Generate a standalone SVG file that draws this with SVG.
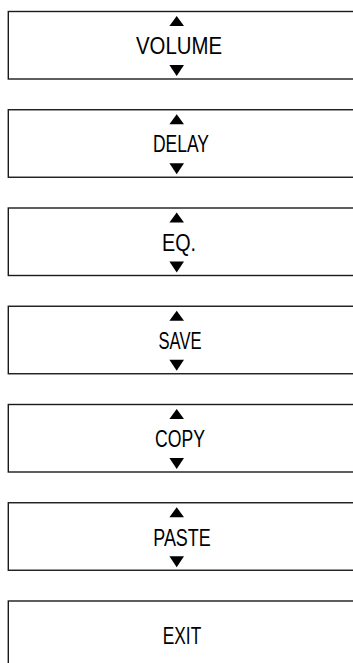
<svg xmlns="http://www.w3.org/2000/svg" xmlns:xlink="http://www.w3.org/1999/xlink" width="353" height="663" viewBox="0 0 353 663">
<style>
.box{fill:#fff;stroke:#1a1a1a;stroke-width:1.4}
.lbl{font-family:"Liberation Sans",Arial,sans-serif;font-size:23px;fill:#000;text-anchor:middle}
.tri{fill:#000}
</style>
<defs>
<path id="up" class="tri" d="M176.7,4.5 L184,14.5 L169.4,14.5 Z"/>
<path id="dn" class="tri" d="M169.4,53.5 L184,53.5 L176.7,64.5 Z"/>
</defs>
<rect width="353" height="663" fill="#fff"/>
<g id="connectors"/>
<g id="volume" transform="translate(0,11.5)">
<rect class="box" x="8.3" y="0" width="360" height="67.5"/>
<use xlink:href="#up"/><use xlink:href="#dn"/>
<text class="lbl" x="179" y="42.5" textLength="86" lengthAdjust="spacingAndGlyphs">VOLUME</text>
</g>
<g id="delay" transform="translate(0,109.75)">
<rect class="box" x="8.3" y="0" width="360" height="67.5"/>
<use xlink:href="#up"/><use xlink:href="#dn"/>
<text class="lbl" x="181" y="42.5" textLength="56" lengthAdjust="spacingAndGlyphs">DELAY</text>
</g>
<g id="eq" transform="translate(0,208)">
<rect class="box" x="8.3" y="0" width="360" height="67.5"/>
<use xlink:href="#up"/><use xlink:href="#dn"/>
<text class="lbl" x="179" y="42.5" textLength="34" lengthAdjust="spacingAndGlyphs">EQ.</text>
</g>
<g id="save" transform="translate(0,306.25)">
<rect class="box" x="8.3" y="0" width="360" height="67.5"/>
<use xlink:href="#up"/><use xlink:href="#dn"/>
<text class="lbl" x="180" y="42.5" textLength="43" lengthAdjust="spacingAndGlyphs">SAVE</text>
</g>
<g id="copy" transform="translate(0,404.5)">
<rect class="box" x="8.3" y="0" width="360" height="67.5"/>
<use xlink:href="#up"/><use xlink:href="#dn"/>
<text class="lbl" x="180" y="42.5" textLength="50" lengthAdjust="spacingAndGlyphs">COPY</text>
</g>
<g id="paste" transform="translate(0,502.75)">
<rect class="box" x="8.3" y="0" width="360" height="67.5"/>
<use xlink:href="#up"/><use xlink:href="#dn"/>
<text class="lbl" x="182" y="43" textLength="57.5" lengthAdjust="spacingAndGlyphs">PASTE</text>
</g>
<g id="exit" transform="translate(0,601)">
<rect class="box" x="8.3" y="0" width="360" height="67.5"/>
<text class="lbl" x="182" y="43.3" textLength="38.5" lengthAdjust="spacingAndGlyphs">EXIT</text>
</g>
</svg>
